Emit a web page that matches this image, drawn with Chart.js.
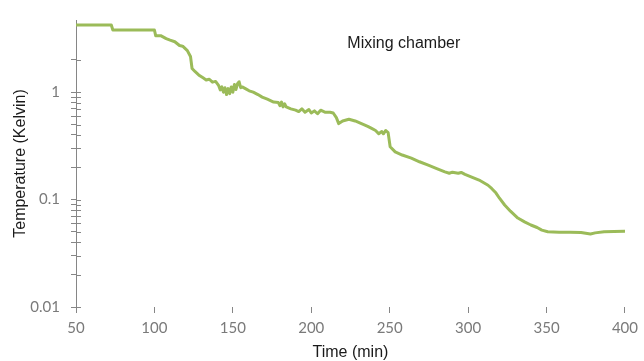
<!DOCTYPE html>
<html>
<head>
<meta charset="utf-8">
<title>Mixing chamber</title>
<script src="https://cdn.jsdelivr.net/npm/chart.js@4.4.1/dist/chart.umd.min.js"></script>
<style>
  html, body { margin: 0; padding: 0; background: #fff; }
  canvas { display: block; }
</style>
</head>
<body>
<canvas id="tempChart" width="644" height="361"></canvas>
<script>
// Time (min) and mixing chamber temperature (K)
const times = [
    50, 72.5, 73.5, 100, 100.8, 104, 107.5, 110, 113, 116, 118, 121, 123, 124, 126, 128.7,
    131, 133, 135, 137, 139, 141, 142, 143, 144, 145, 146, 147, 148, 149, 150, 151, 152,
    153, 154, 155, 156, 158, 160.4, 163, 166, 168.7, 172, 176, 179, 180, 181, 182, 183,
    184, 187, 190, 192, 194, 196, 198.5, 200, 202, 204, 206, 209, 212, 214, 216, 217.5,
    220, 224, 228, 232, 236, 238.5, 241, 243, 245, 246, 247.5, 249, 250.3, 253.5, 258,
    263.8, 269, 274.6, 280, 285.2, 288, 290, 293.7, 295.6, 298, 301.9, 307, 312.7, 315,
    317.8, 320, 323.3, 327, 331.7, 336, 340, 344, 347, 350.8, 358, 365, 372, 378, 381,
    386.7, 393, 400
];
const temps = [
    4.22, 4.22, 3.79, 3.79, 3.36, 3.36, 3.15, 3.05, 2.95, 2.72, 2.68, 2.44, 2.15, 1.66, 1.55, 1.43,
    1.36, 1.30, 1.32, 1.24, 1.26, 1.15, 1.05, 1.12, 1.00, 1.10, 0.95, 1.08, 0.97, 1.12, 1.00, 1.18, 1.06,
    1.20, 1.25, 1.10, 1.12, 1.08, 1.03, 1.00, 0.95, 0.90, 0.86, 0.81, 0.80, 0.75, 0.81, 0.73, 0.78,
    0.73, 0.70, 0.68, 0.66, 0.70, 0.65, 0.69, 0.64, 0.67, 0.63, 0.68, 0.65, 0.65, 0.64, 0.58, 0.51,
    0.54, 0.56, 0.54, 0.51, 0.48, 0.46, 0.44, 0.41, 0.43, 0.41, 0.44, 0.42, 0.31, 0.278, 0.26,
    0.243, 0.225, 0.209, 0.194, 0.181, 0.176, 0.18, 0.176, 0.179, 0.172, 0.163, 0.152, 0.136, 0.127,
    0.115, 0.103, 0.089, 0.078, 0.0673, 0.062, 0.058, 0.055, 0.052, 0.0502, 0.0497, 0.0497, 0.0495, 0.0479, 0.049,
    0.0502, 0.0505, 0.0508
];

// axis ticks
const xTicks = [50, 100, 150, 200, 250, 300, 350, 400];
const yTicks = [0.01, 0.02, 0.03, 0.04, 0.05, 0.06, 0.07, 0.08, 0.09,
                0.1, 0.2, 0.3, 0.4, 0.5, 0.6, 0.7, 0.8, 0.9, 1, 2];
const yLabelled = [0.01, 0.1, 1];

const points = times.map((t, i) => ({ x: t, y: temps[i] }));

const tickFont = { family: 'Lato', size: 15 };
const titleFont = { family: 'Liberation Sans', size: 16, lineHeight: 1 };

// short tick marks that cross the y axis, plus the inner label
const extras = {
    id: 'extras',
    afterDraw(chart) {
        const ctx = chart.ctx;
        const x = chart.scales.x, y = chart.scales.y;
        ctx.save();
        ctx.strokeStyle = '#868686';
        ctx.lineWidth = 1;
        ctx.beginPath();
        y.ticks.forEach(t => {
            const py = Math.round(y.getPixelForValue(t.value)) + 0.5;
            ctx.moveTo(x.left, py);
            ctx.lineTo(x.left + 5, py);
        });
        ctx.moveTo(x.left + 0.5, y.bottom);
        ctx.lineTo(x.left + 0.5, y.bottom + 5);
        ctx.stroke();

        ctx.fillStyle = '#1a1a1a';
        ctx.font = '16px "Liberation Sans"';
        ctx.textAlign = 'center';
        ctx.textBaseline = 'middle';
        ctx.fillText('Mixing chamber', x.getPixelForValue(259), y.getPixelForValue(2.83));
        ctx.restore();
    }
};

window.onload = function() {
    new Chart(document.getElementById('tempChart'), {
        type: 'line',
        data: {
            datasets: [{
                label: 'Mixing chamber',
                data: points,
                borderColor: '#9bbb59',
                borderWidth: 3,
                borderJoinStyle: 'round',
                borderCapStyle: 'round',
                pointRadius: 0,
                tension: 0,
                fill: false
            }]
        },
        options: {
            responsive: false,
            animation: false,
            devicePixelRatio: 1,
            layout: { padding: { top: 19, right: 16, left: 0, bottom: 0 } },
            plugins: {
                legend: { display: false },
                tooltip: { enabled: false }
            },
            scales: {
                x: {
                    type: 'linear',
                    min: 50,
                    max: 400,
                    afterBuildTicks: scale => { scale.ticks = xTicks.map(v => ({ value: v })); },
                    afterFit: scale => { scale.height = 54; },
                    ticks: { font: tickFont, color: '#7a7a7a', padding: 6, maxRotation: 0 },
                    grid: { drawOnChartArea: false, tickLength: 6, color: '#868686' },
                    border: { display: false },
                    title: {
                        display: true,
                        text: 'Time (min)',
                        font: titleFont,
                        color: '#1a1a1a',
                        padding: { top: 0, bottom: 0 }
                    }
                },
                y: {
                    type: 'logarithmic',
                    min: 0.01,
                    max: 4.7,
                    afterBuildTicks: scale => { scale.ticks = yTicks.map(v => ({ value: v })); },
                    afterFit: scale => { scale.width = 76; },
                    ticks: {
                        font: tickFont,
                        color: '#7a7a7a',
                        padding: 11,
                        autoSkip: false,
                        callback: v => yLabelled.includes(v) ? String(v) : ''
                    },
                    grid: { drawOnChartArea: false, tickLength: 5, color: '#868686' },
                    border: { display: true, color: '#868686', width: 1 },
                    title: {
                        display: true,
                        text: 'Temperature (Kelvin)',
                        font: titleFont,
                        color: '#1a1a1a',
                        padding: { top: 13, bottom: 0 }
                    }
                }
            }
        },
        plugins: [extras]
    });
};
</script>
</body>
</html>
